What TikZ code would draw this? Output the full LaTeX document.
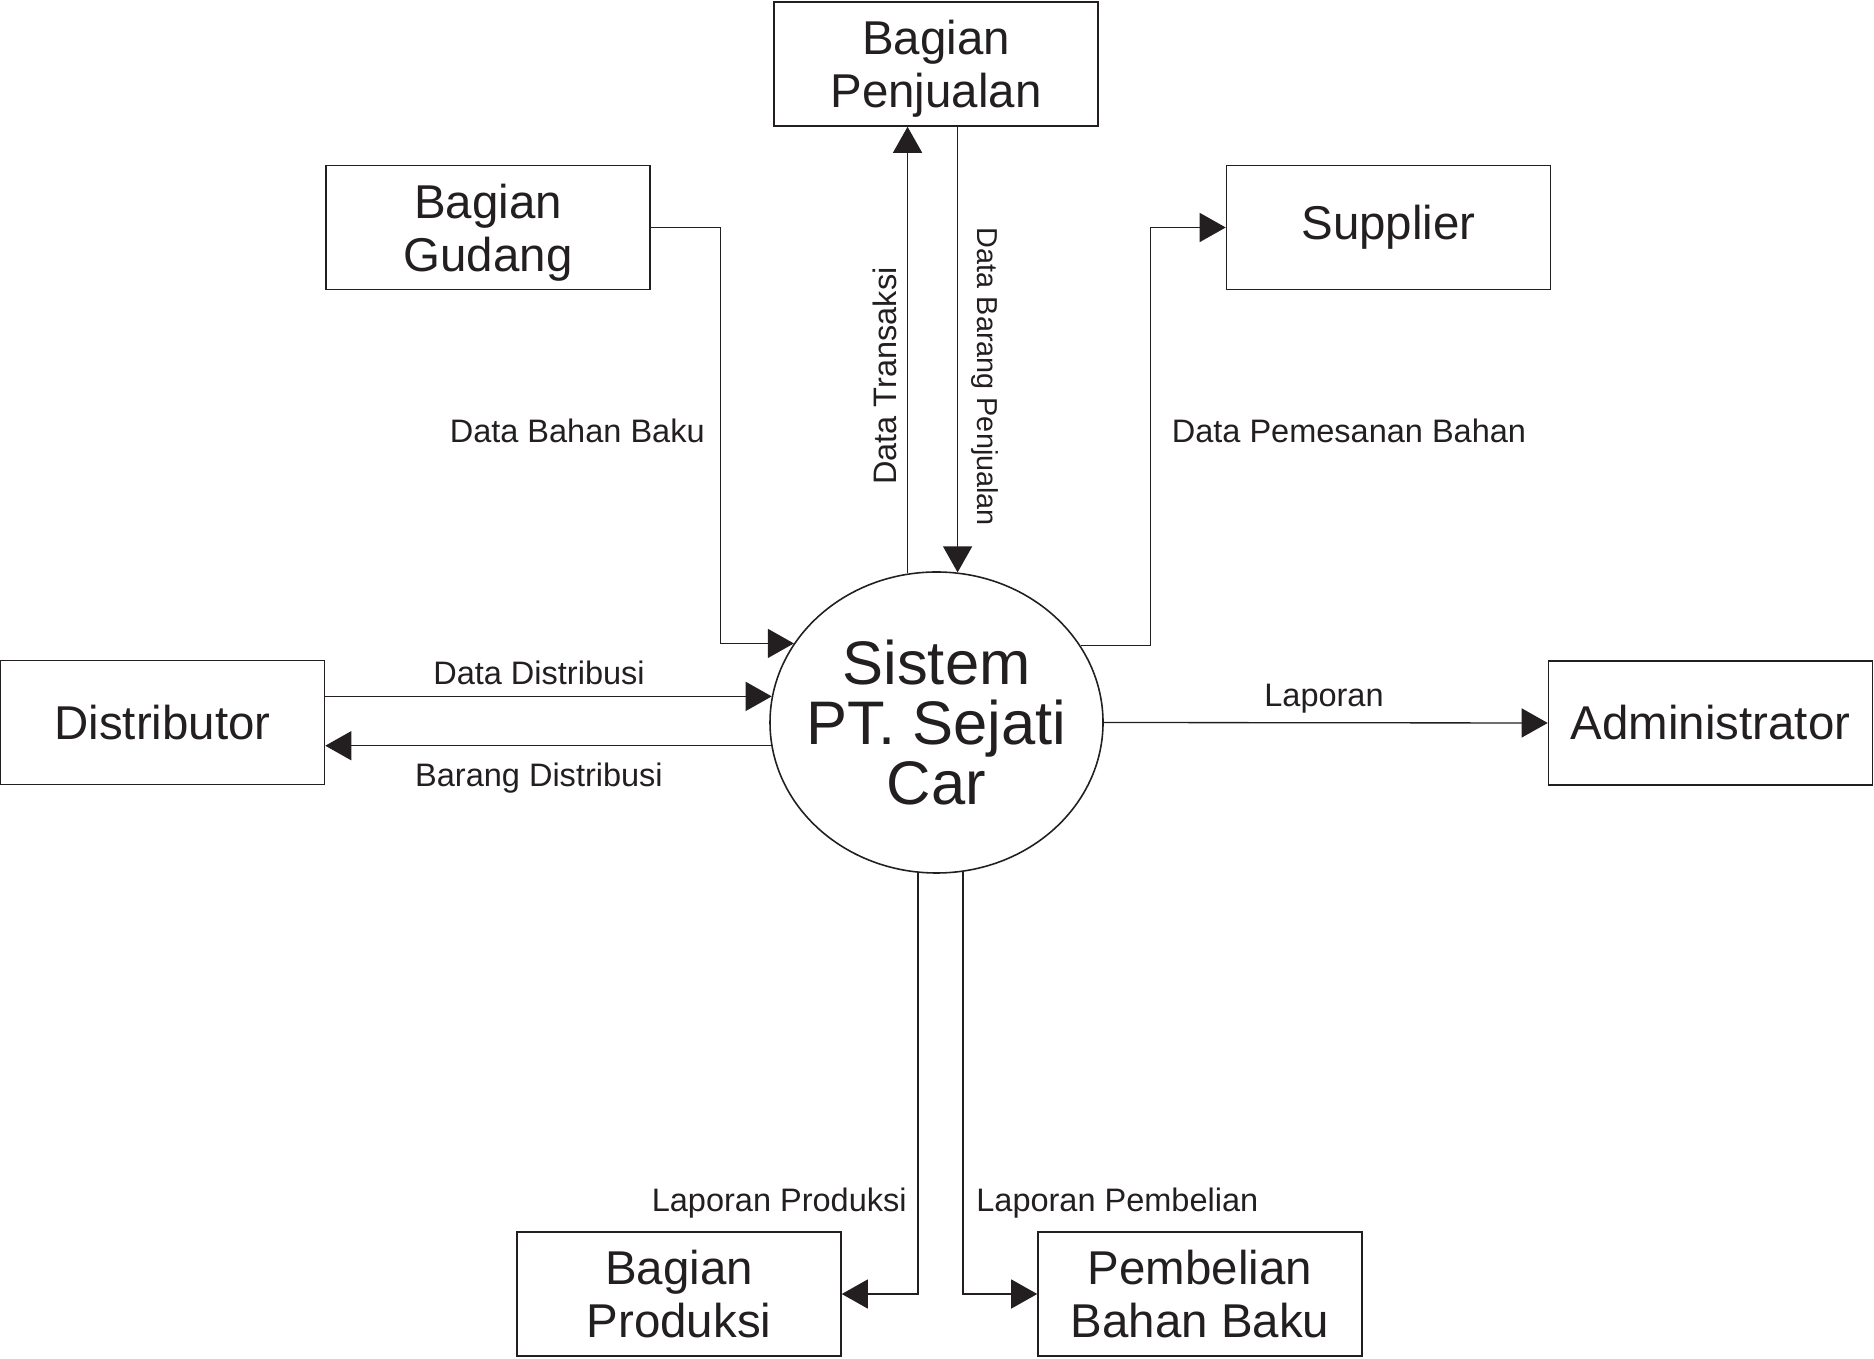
\documentclass[tikz,border=0pt]{standalone}
\usepackage{fontspec}
\setmainfont{Liberation Sans}
\usepackage{tikz}
\usetikzlibrary{arrows.meta,positioning,shapes.geometric}
\definecolor{dfdInk}{RGB}{35,31,32}

\begin{document}
\begin{tikzpicture}[
  entity/.style={draw=dfdInk, line width=0.9pt, fill=white, minimum width=6.48cm, minimum height=2.48cm,
    inner sep=0pt, align=center, text=dfdInk, font=\fontsize{27}{30}\selectfont},
  flow/.style={dfdInk, line width=0.75pt, -{Triangle[length=14.8pt,width=16.5pt]}},
  flowlbl/.style={text=dfdInk, inner sep=0pt, font=\fontsize{18.5}{22}\selectfont}
]
\useasboundingbox (0,0) rectangle (37.48,27.16);
% external entities
\node[entity, text depth=0pt] (jual) at (18.72,25.88) {Bagian\\Penjualan};
\node[entity, text depth=0pt] (gudang) at (9.76,22.61) {Bagian\\Gudang};
\node[entity] (supplier) at (27.77,22.61) {Supplier};
\node[entity] (dist) at (3.25,12.71) {Distributor};
\node[entity] (admin) at (34.21,12.70) {Administrator};
\node[entity] (produksi) at (13.58,1.28) {Bagian\\Produksi};
\node[entity] (beli) at (24.0,1.28) {Pembelian\\Bahan Baku};
% the process
\node[ellipse, draw=dfdInk, line width=0.9pt, minimum width=6.66cm, minimum height=6.02cm, inner sep=0pt] (sys) at (18.73,12.71) {};
\node[text=dfdInk, align=center, font=\fontsize{35}{34}\selectfont] (systext) at (sys.center) {Sistem\\PT. Sejati\\Car};
% data flows
\draw[flow] (gudang.east) -- ++(1.4,0) |- (sys.151.6);
\draw[flow] (sys.101.7) -- (sys.101.7 |- jual.south);
\draw[flow] (sys.82.7 |- jual.south) -- (sys.82.7);
\draw[flow] (sys.28.2) -| ([xshift=-1.5cm]supplier.west) -- (supplier.west);
\draw[flow] (sys.171.9 -| dist.east) -- (sys.171.9);
\draw[flow] (sys.188.8) -- (sys.188.8 -| dist.east);
\draw[flow] (sys.east) -- (admin.west);
\draw[flow] (sys.263) |- (produksi.east);
\draw[flow] (sys.280.5) |- (beli.west);
% flow labels
\node[flowlbl, anchor=base east] (lblBahan) at (14.1,18.31) {Data Bahan Baku};
\node[flowlbl, rotate=90] (lblTransaksi) at (17.69,19.64) {Data Transaksi};
\node[flowlbl, rotate=-90, font=\fontsize{16.4}{20}\selectfont] (lblBarangJual) at (19.7,19.62) {Data Barang Penjualan};
\node[flowlbl, anchor=base west] (lblPesan) at (23.43,18.31) {Data Pemesanan Bahan};
\node[flowlbl, anchor=base] (lblDataDist) at (10.78,13.47) {Data Distribusi};
\node[flowlbl, anchor=base] (lblBarangDist) at (10.78,11.43) {Barang Distribusi};
\node[flowlbl, anchor=base] (lblLaporan) at (26.48,13.03) {Laporan};
\node[flowlbl, anchor=base east] (lblProduksi) at (18.14,2.93) {Laporan Produksi};
\node[flowlbl, anchor=base west] (lblBeli) at (19.52,2.93) {Laporan Pembelian};
\end{tikzpicture}
\end{document}
